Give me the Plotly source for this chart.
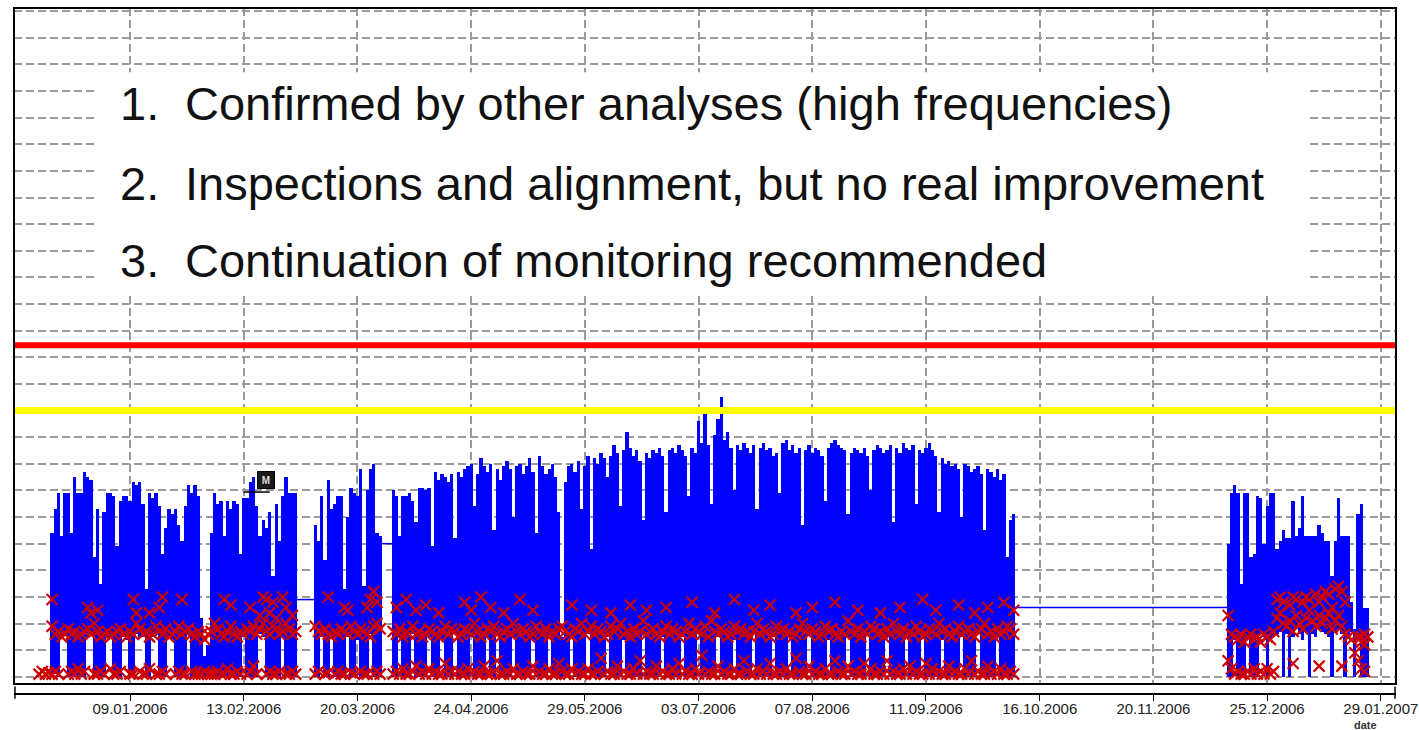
import pandas as pd
import plotly.graph_objects as go

# segment start dates (one value per day follows in each list)
a_start = "2005-12-12"
b_start = "2006-03-07"
c_start = "2006-03-31"
d_start = "2006-12-13"

a_high = [None, None, None, None,
          5.4, 6.3, 6.9, 5.3, 6.9, 6.9, 5.4, 7.5, 6.9, 6.9,
          7.7, 7.5, 7.4, 4.5, 6.3, 3.5, 6.2, 6.9, 6.9, 6.8,
          4.9, 6.6, 6.8, 6.8, 6.6, 7.3, 7.2, 7.3, 6.5, 3.3,
          6.9, 6.7, 6.9, 6.4, 4.6, 5.6, 6.3, 6.1, 6.3, 5.7,
          5.1, 6.4, 7.2, 6.9, 7.2, 6.8, 2.2, 0.8, 1.2, 5.4,
          6.9, 6.5, 6.6, 5.3, 6.6, 6.3, 6.6, 6.5, 4.6, 6.7,
          6.7, 7.3, 7.5, 6.4, 5.3, 5.9, 5.6, 6.2, 3.8, 6.5,
          5.1, 6.8, 7.5, 6.9, 6.9, 6.9]
a_low = [None, None, None, None,
         0.0, 0.1, 0.0, 1.5, 1.6, 0.0, 0.0, 0.0, 0.0, 0.0,
         0.0, 1.5, 1.6, 0.0, 0.0, 0.0, 0.0, 1.5, 1.6, 0.0,
         0.0, 0.0, 1.5, 1.4, 0.0, 0.0, 1.6, 1.5, 1.5, 0.0,
         0.0, 1.5, 1.6, 0.0, 0.0, 0.0, 1.5, 1.4, 0.0, 0.0,
         0.0, 0.0, 1.6, 0.0, 0.0, 0.0, 0.0, 0.0, 0.0, 0.0,
         0.0, 0.0, 0.0, 0.0, 0.0, 0.0, 0.0, 0.0, 0.0, 1.5,
         0.0, 0.0, 0.0, 0.0, 1.6, 1.5, 0.0, 0.0, 0.0, 0.0,
         0.0, 1.5, 0.0, 0.0, 0.0, 0.0]
a_red_mid = [None, None, None, None,
             1.9, 1.6, 1.7, 1.5, 1.6, 1.8, 1.6, 1.7, 1.5, 1.6,
             1.7, 1.8, 1.6, 2.0, 1.7, 1.5, 1.6, 1.7, 1.5, 1.6,
             1.7, 1.8, 1.6, 1.5, 1.7, 1.6, 2.0, 1.8, 1.6, 1.7,
             1.5, 1.6, 1.9, 1.7, 1.6, 1.8, 1.5, 1.6, 1.7, 1.9,
             1.6, 1.7, 1.8, 1.6, 1.5, 1.7, 1.6, 1.4, 1.6, 1.7,
             2.0, 1.8, 1.6, 1.5, 1.7, 1.9, 1.6, 1.5, 1.7, 1.6,
             1.8, 1.7, 1.9, 1.6, 1.8, 2.0, 1.7, 1.6, 1.9, 1.8,
             1.6, 1.7, 2.0, 1.8, 1.6, 1.7]
a_red_up = [None, None, None, None,
            2.9, None, None, None, None, None, None, None, None, None,
            None, 2.6, 2.4, None, 2.5, None, None, None, None, None,
            None, None, None, None, None, 2.9, 2.4, None, None, None,
            2.4, None, None, 2.6, 3.0, None, None, None, None, None,
            2.9, None, None, None, None, None, None, None, None, None,
            None, None, None, 2.9, None, 2.7, None, None, None, None,
            None, 2.6, None, None, 2.3, 3.0, 2.9, 2.4, 2.8, 2.2,
            None, 3.0, 2.6, None, 2.3, None]
a_red_low = [0.1, 0.2, 0.1, 0.15,
             0.1, 0.2, 0.1, None, None, 0.1, 0.2, 0.1, 0.3, 0.1,
             0.2, None, None, 0.1, 0.1, 0.2, 0.1, None, 0.3, 0.1,
             0.1, 0.2, None, None, 0.1, 0.1, None, 0.2, 0.1, 0.1,
             0.3, None, 0.1, 0.1, 0.2, 0.1, None, None, 0.1, 0.2,
             0.1, 0.1, None, 0.2, 0.1, 0.1, 0.1, 0.2, 0.1, 0.1,
             0.1, 0.2, 0.1, 0.1, 0.3, 0.1, 0.1, 0.2, 0.1, None,
             0.1, 0.2, 0.4, 0.1, None, None, 0.1, 0.2, 0.1, 0.1,
             0.2, None, 0.1, 0.1, 0.2, 0.1]

b_high = [5.7, 5.1, 6.8, 4.4, 7.4, 6.3, 6.5, 6.8, 6.8, 3.3,
          6.0, 7.1, 6.9, 6.8, 7.8, 3.4, 7.0, 7.8, 8.0, 5.4,
          5.3]
b_low = [0.0, 0.0, 1.5, 0.0, 0.0, 1.6, 0.0, 0.0, 0.0, 0.0,
         1.5, 0.0, 0.0, 1.4, 0.0, 0.0, 0.0, 1.6, 0.0, 0.0,
         0.0]
b_red_mid = [1.9, 1.7, 1.6, 1.8, 1.6, 1.5, 1.7, 1.6, 1.8, 1.7,
             1.6, 1.9, 1.7, 1.6, 1.8, 1.7, 1.6, 1.5, 1.9, 2.0,
             1.8]
b_red_up = [None, None, None, None, 3.0, None, None, None, None, 2.6,
            2.5, None, None, None, None, None, 2.6, 2.9, 3.2, 2.8,
            None]
b_red_low = [0.1, 0.2, None, 0.1, 0.15, None, 0.1, 0.2, 0.1, 0.1,
             None, 0.15, 0.1, None, 0.2, 0.1, 0.1, None, 0.1, 0.2,
             0.1]

c_high = [7.0, 6.8, 5.3, 6.8, 6.8, 6.9, 6.6, 5.8, 7.1, 7.1,
          7.0, 7.1, 4.9, 7.7, 7.4, 7.6, 7.5, 7.3, 7.6, 5.2,
          7.7, 7.5, 7.8, 7.9, 8.0, 6.4, 7.6, 8.2, 7.9, 7.7,
          8.0, 5.5, 7.8, 7.4, 7.9, 8.1, 7.8, 6.0, 7.9, 8.0,
          7.6, 7.9, 8.2, 7.7, 5.4, 8.3, 7.9, 7.6, 7.8, 8.0,
          7.5, 6.2, 1.5, 7.3, 7.9, 8.0, 7.7, 8.1, 6.3, 7.9,
          8.3, 4.8, 8.2, 8.0, 8.4, 8.2, 7.5, 8.3, 8.7, 8.4,
          6.4, 8.5, 9.2, 8.6, 8.3, 8.5, 8.1, 5.9, 8.4, 8.2,
          8.5, 8.4, 8.6, 8.3, 6.2, 8.5, 8.6, 8.4, 8.7, 8.5,
          8.3, 6.8, 8.6, 8.4, 9.6, 8.8, 9.9, 8.7, 6.5, 9.1,
          9.7, 10.5, 8.9, 9.2, 8.6, 7.0, 8.7, 8.5, 8.8, 8.6,
          8.4, 8.7, 6.3, 8.6, 8.8, 8.5, 8.6, 8.3, 8.4, 6.9,
          8.8, 8.9, 8.5, 8.7, 8.4, 8.6, 5.7, 8.5, 8.7, 8.4,
          8.6, 8.5, 8.3, 6.6, 8.6, 8.8, 8.9, 8.7, 8.6, 8.5,
          6.1, 8.4, 8.6, 8.5, 8.4, 8.6, 8.3, 7.0, 8.5, 8.7,
          8.6, 8.4, 8.5, 8.7, 5.8, 8.6, 8.4, 8.8, 8.6, 8.5,
          8.7, 6.5, 8.5, 8.4, 8.6, 8.8, 8.5, 8.3, 6.2, 8.2,
          8.0, 8.1, 7.9, 8.0, 7.8, 6.0, 8.0, 7.9, 7.7, 7.8,
          7.9, 7.6, 5.5, 7.8, 7.7, 7.5, 7.8, 7.4, 7.6, 4.5,
          5.9, 6.1]
c_low = [0.0, 0.0, 1.5, 0.0, 0.0, 0.0, 1.6, 0.0, 0.0, 0.0,
         0.0, 1.5, 0.0, 0.0, 0.0, 1.4, 0.0, 0.0, 0.0, 1.6,
         0.0, 0.0, 0.0, 0.0, 1.5, 0.0, 0.0, 0.0, 0.0, 1.5,
         0.0, 0.0, 1.6, 0.0, 0.0, 0.0, 0.0, 1.5, 0.0, 0.0,
         0.0, 0.0, 0.0, 1.4, 0.0, 0.0, 0.0, 0.0, 1.6, 0.0,
         0.0, 0.0, 0.0, 0.0, 0.0, 1.5, 0.0, 0.0, 0.0, 0.0,
         1.6, 0.0, 0.0, 0.0, 0.0, 0.0, 1.5, 0.0, 0.0, 0.0,
         0.0, 1.4, 0.0, 0.0, 0.0, 0.0, 0.0, 1.6, 0.0, 0.0,
         0.0, 0.0, 0.0, 1.5, 0.0, 0.0, 0.0, 0.0, 0.0, 1.5,
         0.0, 0.0, 0.0, 0.0, 1.6, 0.0, 0.0, 0.0, 0.0, 0.0,
         1.5, 0.0, 0.0, 0.0, 0.0, 1.4, 0.0, 0.0, 0.0, 0.0,
         0.0, 1.6, 0.0, 0.0, 0.0, 0.0, 0.0, 1.5, 0.0, 0.0,
         0.0, 0.0, 1.5, 0.0, 0.0, 0.0, 0.0, 0.0, 1.6, 0.0,
         0.0, 0.0, 0.0, 0.0, 1.4, 0.0, 0.0, 0.0, 0.0, 0.0,
         1.5, 0.0, 0.0, 0.0, 0.0, 0.0, 1.6, 0.0, 0.0, 0.0,
         0.0, 0.0, 1.5, 0.0, 0.0, 0.0, 0.0, 0.0, 1.5, 0.0,
         0.0, 0.0, 0.0, 1.6, 0.0, 0.0, 0.0, 0.0, 0.0, 1.4,
         0.0, 0.0, 0.0, 0.0, 0.0, 1.5, 0.0, 0.0, 0.0, 0.0,
         1.6, 0.0, 0.0, 0.0, 0.0, 0.0, 1.5, 0.0, 0.0, 0.0,
         0.0, 0.0]
c_red_mid = [1.7, 1.6, 1.8, 1.5, 1.7, 1.6, 1.9, 1.6, 1.7, 1.5,
             1.6, 1.8, 1.7, 1.6, 1.5, 1.7, 1.9, 1.6, 1.8, 1.7,
             1.5, 1.6, 1.8, 1.7, 1.6, 2.0, 1.7, 1.5, 1.6, 1.8,
             1.7, 1.9, 1.6, 1.5, 1.7, 1.8, 1.6, 2.0, 1.7, 1.6,
             1.8, 1.7, 1.5, 1.6, 1.9, 1.7, 1.6, 1.8, 1.5, 1.7,
             1.6, 1.8, 1.9, 1.7, 1.6, 1.5, 1.8, 1.7, 2.0, 1.6,
             1.7, 1.9, 1.6, 1.8, 1.7, 1.5, 1.6, 1.9, 1.7, 1.8,
             2.0, 1.6, 1.7, 1.5, 1.8, 1.6, 1.7, 2.1, 1.6, 1.7,
             1.8, 1.6, 1.5, 1.7, 1.9, 1.6, 1.8, 1.7, 1.5, 1.6,
             1.7, 2.0, 1.6, 1.8, 1.7, 1.6, 1.9, 1.5, 2.1, 1.7,
             1.6, 1.8, 1.7, 1.5, 1.6, 1.9, 1.7, 1.8, 1.6, 1.7,
             1.5, 1.7, 2.0, 1.6, 1.8, 1.7, 1.5, 1.6, 1.9, 1.7,
             1.8, 1.6, 1.7, 1.5, 1.6, 1.8, 2.0, 1.7, 1.6, 1.8,
             1.7, 1.5, 1.6, 1.9, 1.7, 1.8, 1.6, 1.5, 1.7, 1.6,
             2.1, 1.7, 1.6, 1.8, 1.5, 1.7, 1.6, 1.9, 1.8, 1.6,
             1.7, 1.5, 1.8, 1.6, 2.0, 1.7, 1.6, 1.8, 1.5, 1.7,
             1.6, 1.9, 1.7, 1.5, 1.6, 1.8, 1.7, 1.6, 2.0, 1.7,
             1.8, 1.6, 1.5, 1.7, 1.9, 1.6, 1.7, 1.8, 1.6, 1.5,
             1.7, 1.8, 2.0, 1.6, 1.7, 1.5, 1.8, 1.6, 1.7, 1.9,
             1.8, 1.6]
c_red_up = [None, 2.6, None, None, 2.9, None, None, 2.5, None, None,
            2.7, None, None, None, 2.4, None, None, None, None, None,
            None, None, 2.8, None, 2.5, None, None, 3.0, None, None,
            2.6, None, None, None, 2.4, None, None, None, None, 2.9,
            None, None, None, 2.5, None, None, None, None, None, None,
            None, None, None, None, None, 2.7, None, None, None, None,
            None, 2.5, None, None, None, None, None, 2.4, None, None,
            None, None, None, 2.7, None, None, None, None, 2.5, None,
            None, None, None, None, 2.6, None, None, None, None, None,
            None, None, 2.8, None, None, None, None, None, None, 2.4,
            None, None, None, None, None, 2.9, None, None, None, None,
            None, 2.5, None, None, None, None, 2.7, None, None, None,
            None, None, None, None, 2.4, None, None, None, None, 2.6,
            None, None, None, None, None, None, 2.8, None, None, None,
            None, None, None, 2.5, None, None, None, None, None, None,
            2.4, None, None, None, None, None, 2.6, None, None, None,
            None, None, None, 2.9, None, None, None, 2.5, None, None,
            None, None, None, None, 2.7, None, None, None, None, 2.4,
            None, None, None, 2.6, None, None, None, None, 2.8, None,
            None, 2.5]
c_red_low = [0.1, 0.2, 0.1, 0.3, 0.1, 0.1, 0.2, 0.4, 0.1, 0.2,
             0.1, 0.3, 0.1, 0.2, 0.1, 0.1, 0.5, 0.1, 0.2, 0.1,
             0.2, 0.1, 0.1, 0.3, 0.1, 0.2, 0.1, 0.1, 0.4, 0.1,
             0.1, 0.2, 0.6, 0.1, 0.1, 0.2, 0.1, 0.3, 0.1, 0.1,
             0.2, 0.1, 0.1, 0.4, 0.1, 0.2, 0.1, 0.1, 0.3, 0.1,
             0.1, 0.5, 0.2, 0.1, 0.1, 0.3, 0.1, 0.2, 0.1, 0.1,
             0.3, 0.1, 0.1, 0.2, 0.7, 0.1, 0.2, 0.1, 0.1, 0.4,
             0.1, 0.2, 0.1, 0.1, 0.3, 0.1, 0.6, 0.1, 0.2, 0.1,
             0.1, 0.4, 0.1, 0.2, 0.1, 0.1, 0.3, 0.1, 0.5, 0.1,
             0.2, 0.1, 0.1, 0.3, 0.1, 0.8, 0.1, 0.2, 0.1, 0.1,
             0.4, 0.1, 0.2, 0.1, 0.1, 0.3, 0.1, 0.1, 0.6, 0.2,
             0.1, 0.1, 0.3, 0.1, 0.2, 0.1, 0.5, 0.1, 0.1, 0.2,
             0.1, 0.3, 0.1, 0.1, 0.7, 0.2, 0.1, 0.1, 0.4, 0.1,
             0.2, 0.1, 0.1, 0.3, 0.1, 0.1, 0.6, 0.2, 0.1, 0.1,
             0.4, 0.1, 0.2, 0.1, 0.1, 0.5, 0.1, 0.3, 0.1, 0.1,
             0.2, 0.1, 0.6, 0.1, 0.2, 0.1, 0.1, 0.3, 0.1, 0.4,
             0.1, 0.2, 0.1, 0.1, 0.5, 0.1, 0.3, 0.1, 0.2, 0.1,
             0.1, 0.4, 0.1, 0.2, 0.1, 0.1, 0.3, 0.1, 0.6, 0.1,
             0.2, 0.1, 0.1, 0.4, 0.1, 0.2, 0.1, 0.3, 0.1, 0.1,
             0.2, 0.1]

d_high = [5.0, 6.9, 7.2, 6.9, 3.5, 6.9, 6.9, 4.5, 4.6, 6.8,
          6.7, 5.0, 6.4, 6.9, 6.9, 4.8, 5.1, 5.5, 5.2, 5.2,
          6.6, 5.3, 5.6, 6.8, 5.3, 5.3, 5.3, 5.3, 5.7, 5.4,
          5.1, 5.1, 3.8, 5.1, 6.7, 5.3, 5.3, 5.3, 2.8, 1.8,
          6.1, 6.5, 2.6, 2.6]
d_low = [0.0, 0.0, 1.4, 0.0, 0.0, 0.0, 1.5, 0.0, 0.0, 0.0,
         1.6, 1.5, 0.0, 1.4, 1.5, 1.6, 1.7, 0.0, 1.6, 0.0,
         1.5, 1.8, 1.6, 1.4, 1.7, 0.0, 1.6, 1.5, 1.8, 1.7,
         1.6, 1.5, 0.0, 1.7, 1.8, 1.6, 0.0, 1.5, 1.7, 0.0,
         1.6, 0.0, 0.0, 0.0]
d_red_mid = [2.3, 1.6, 1.5, 1.4, 1.6, 1.3, 1.5, 1.6, 1.4, 1.5,
             1.3, 1.6, 1.5, 1.4, 1.7, 2.2, 2.4, 2.0, 1.9, 2.1,
             1.7, 2.3, 2.0, 1.8, 2.2, 2.5, 2.1, 1.9, 2.3, 2.0,
             2.2, 2.4, 1.8, 2.1, 2.3, 1.9, 1.6, 1.5, 1.4, 0.9,
             1.5, 1.3, 1.6, 1.5]
d_red_up = [None, None, None, None, None, None, None, None, None, None,
            None, None, None, None, None, 2.9, 3.0, 2.8, None, 2.7,
            3.0, 2.9, None, 2.8, 3.0, 2.9, None, 3.1, 2.8, 3.0,
            3.2, 3.1, 2.6, 3.3, 3.4, 3.2, 2.8, None, None, None,
            None, 1.5, 1.2, None]
d_red_low = [0.6, 0.3, 0.1, 0.2, 0.1, 0.1, 0.2, 0.1, 0.3, 0.1,
             0.2, 0.1, 0.3, 0.1, 0.2, None, None, None, None, None,
             0.5, None, None, None, None, None, None, None, 0.4, None,
             None, None, None, None, None, 0.4, None, None, None, None,
             0.6, 0.3, 0.2, None]

# flat lines joining the recorded periods
gap_from = ["2006-03-01", "2006-03-27", "2006-10-08"]
gap_to = ["2006-03-07", "2006-03-31", "2006-12-13"]
gap_level = [2.9, 5.0, 2.6]

alarm_level = 12.45
warning_level = 10.0

tick_dates = ["2006-01-09", "2006-02-13", "2006-03-20", "2006-04-24", "2006-05-29",
              "2006-07-03", "2006-08-07", "2006-09-11", "2006-10-16", "2006-11-20",
              "2006-12-25", "2007-01-29"]
tick_labels = ["09.01.2006", "13.02.2006", "20.03.2006", "24.04.2006", "29.05.2006",
               "03.07.2006", "07.08.2006", "11.09.2006", "16.10.2006", "20.11.2006",
               "25.12.2006", "29.01.2007"]

notes = ["Confirmed by other analyses (high frequencies)",
         "Inspections and alignment, but no real improvement",
         "Continuation of monitoring recommended"]

marker_date = "2006-02-20"
marker_level = 7.41

segments = [
    (a_start, a_high, a_low, a_red_mid, a_red_up, a_red_low),
    (b_start, b_high, b_low, b_red_mid, b_red_up, b_red_low),
    (c_start, c_high, c_low, c_red_mid, c_red_up, c_red_low),
    (d_start, d_high, d_low, d_red_mid, d_red_up, d_red_low),
]

bar_x, bar_base, bar_len = [], [], []
red_x, red_y = [], []
for start, high, low, mid, up, bottom in segments:
    days = pd.date_range(start, periods=len(high), freq="D")
    for day, h, l in zip(days, high, low):
        if h is None:
            continue
        bar_x.append(day)
        bar_base.append(l)
        bar_len.append(h - l)
    for series in (mid, up, bottom):
        for day, v in zip(days, series):
            if v is not None:
                red_x.append(day)
                red_y.append(v)

gap_x, gap_y = [], []
for x0, x1, lv in zip(gap_from, gap_to, gap_level):
    gap_x += [x0, x1, None]
    gap_y += [lv, lv, None]

FONT = "Liberation Sans, Arial, Helvetica, sans-serif"
GRID = "#9a9a9a"

fig = go.Figure()
fig.add_trace(go.Bar(x=bar_x, y=bar_len, base=bar_base, width=86400000,
                     marker=dict(color="#0000ff", line=dict(width=0)), showlegend=False))
fig.add_trace(go.Scatter(x=gap_x, y=gap_y, mode="lines",
                         line=dict(color="#0000ff", width=1.5), showlegend=False))
fig.add_trace(go.Scatter(x=red_x, y=red_y, mode="markers", showlegend=False,
                         marker=dict(symbol="x-thin", size=11, color="#cc0000",
                                     line=dict(width=2.2, color="#cc0000"))))
# small line under the "M" flag
fig.add_trace(go.Scatter(x=["2006-02-13", "2006-02-21"], y=[6.94, 6.94], mode="lines",
                         line=dict(color="black", width=1.5), showlegend=False))

fig.update_layout(
    template="none",
    width=1419, height=730,
    margin=dict(l=14, r=23, t=8, b=36, autoexpand=False),
    plot_bgcolor="white", paper_bgcolor="white",
    bargap=0, showlegend=False,
    xaxis=dict(type="date", range=["2005-12-04 07:00", "2007-02-02 16:00"],
               anchor="free", position=0, automargin=False,
               showline=True, linecolor="black", linewidth=1.5,
               ticks="outside", ticklen=6, tickcolor="black", tickwidth=1.2,
               ticklabelstandoff=-5,
               tickvals=tick_dates, ticktext=tick_labels,
               tickfont=dict(family=FONT, size=15, color="#222222"),
               showgrid=True, gridcolor=GRID, gridwidth=1.5, griddash="8px,4px",
               zeroline=False),
    yaxis=dict(domain=[0.0146, 1], range=[-0.27, 25.12], tick0=0, dtick=1,
               showticklabels=False, ticks="", showline=False, zeroline=False,
               showgrid=True, gridcolor=GRID, gridwidth=1.5, griddash="8px,4px"),
)

shapes = [
    dict(type="line", xref="x domain", x0=0, x1=1, yref="y", y0=alarm_level, y1=alarm_level,
         line=dict(color="#ff0000", width=6), layer="above"),
    dict(type="line", xref="x domain", x0=0, x1=1, yref="y", y0=warning_level, y1=warning_level,
         line=dict(color="#ffff00", width=7), layer="above"),
    dict(type="rect", xref="x domain", x0=0.0601, x1=0.9349, yref="y", y0=14.45, y1=22.71,
         fillcolor="white", line=dict(width=0), layer="above"),
    dict(type="rect", xref="x domain", x0=0, x1=1, yref="y domain", y0=0, y1=1,
         line=dict(color="black", width=2), layer="above"),
    dict(type="line", xref="x domain", x0=0.0007, x1=0.0007, yref="paper", y0=0.011, y1=-0.007,
         line=dict(color="black", width=1.5)),
    dict(type="line", xref="x domain", x0=0.9993, x1=0.9993, yref="paper", y0=0.011, y1=-0.007,
         line=dict(color="black", width=1.5)),
]
fig.update_layout(shapes=shapes)

note_levels = [21.55, 18.54, 15.62]
annotations = []
for i, (txt, lv) in enumerate(zip(notes, note_levels)):
    annotations.append(dict(xref="x domain", yref="y", x=0.0753, y=lv, text=f"{i + 1}.",
                            showarrow=False, xanchor="left", yanchor="middle",
                            font=dict(family=FONT, size=47, color="#111111")))
    annotations.append(dict(xref="x domain", yref="y", x=0.1223, y=lv, text=txt,
                            showarrow=False, xanchor="left", yanchor="middle",
                            font=dict(family=FONT, size=47, color="#111111")))
annotations.append(dict(xref="x", yref="y", x=marker_date, y=marker_level, text="<b>M</b>",
                        showarrow=False, bgcolor="#1a1a1a", bordercolor="black", borderwidth=1,
                        width=14, height=14, font=dict(family=FONT, size=10, color="#dddddd")))
annotations.append(dict(xref="x domain", yref="paper", x=0.9776, y=-0.0445, text="<b>date</b>",
                        showarrow=False, xanchor="center", yanchor="middle",
                        font=dict(family=FONT, size=11, color="#333333")))
fig.update_layout(annotations=annotations)

# page body has a default 8px margin; drop it so the figure sits at the window corner
fig.write_html("out.html", config={"displayModeBar": False},
               post_script="document.body.style.margin='0';")
